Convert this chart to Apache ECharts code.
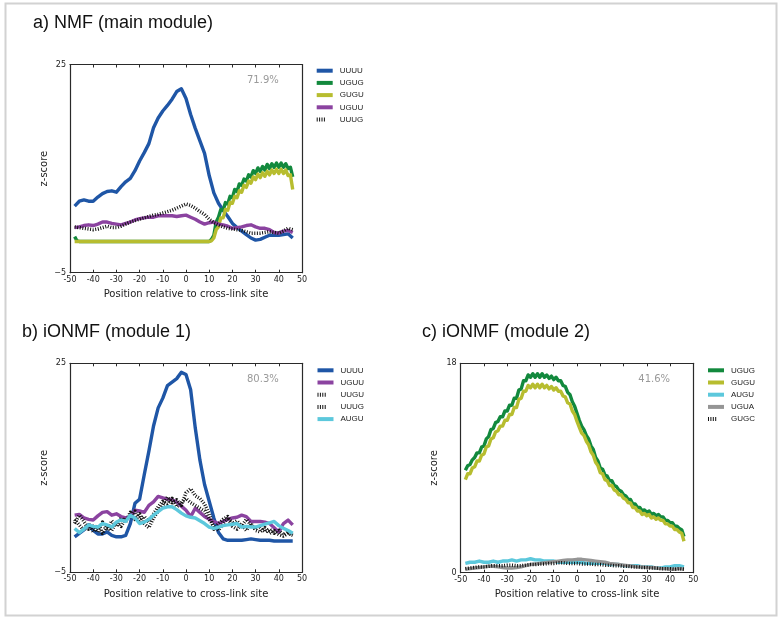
<!DOCTYPE html>
<html>
<head>
<meta charset="utf-8">
<script src="https://cdn.jsdelivr.net/npm/echarts@6/dist/echarts.min.js"></script>
<style>
html, body { margin: 0; padding: 0; background: #fff; }
#chart { width: 780px; height: 617px; }
</style>
</head>
<body>
<div id="chart"></div>
<script>
// Positions relative to the cross-link site (nucleotides)
const POS_FINE = [-48,-47,-46,-45,-44,-43,-42,-41,-40,-39,-38,-37,-36,-35,-34,-33,-32,-31,-30,-29,
  -28,-27,-26,-25,-24,-23,-22,-21,-20,-19,-18,-17,-16,-15,-14,-13,-12,-11,-10,-9,
  -8,-7,-6,-5,-4,-3,-2,-1,0,1,2,3,4,5,6,7,8,9,10,11,
  12,13,14,15,16,17,18,19,20,21,22,23,24,25,26,27,28,29,30,31,
  32,33,34,35,36,37,38,39,40,41,42,43,44,45,46];
const POS_COARSE = [-48,-46,-44,-42,-40,-38,-36,-34,-32,-30,-28,-26,
  -24,-22,-20,-18,-16,-14,-12,-10,-8,-6,-4,-2,
  0,2,4,6,8,10,12,14,16,18,20,22,
  24,26,28,30,32,34,36,38,40,42,44,46];

const X_TICKS = [-50, 50, 10];   // min, max, step of the position axis

// ---- a) NMF (main module) ----
const A_UUUU = [4.6,5.3,5.5,5.3,5.3,5.9,6.4,6.7,6.8,6.6,7.4,8.1,
  8.6,9.7,11.1,12.3,13.6,15.9,17.3,18.3,19.1,20.0,21.1,21.5,
  20.1,17.8,15.8,14.0,12.2,9.0,6.5,5.0,4.0,3.1,2.1,1.5,
  1.0,0.5,0.0,-0.3,-0.2,0.1,0.4,0.4,0.4,0.5,0.6,0.0];
const A_UGUG = [0.2,-0.4,-0.5,-0.5,-0.5,-0.5,-0.5,-0.5,-0.5,-0.5,
  -0.5,-0.5,-0.5,-0.5,-0.5,-0.5,-0.5,-0.5,-0.5,-0.5,
  -0.5,-0.5,-0.5,-0.5,-0.5,-0.5,-0.5,-0.5,-0.5,-0.5,
  -0.5,-0.5,-0.5,-0.5,-0.5,-0.5,-0.5,-0.5,-0.5,-0.5,
  -0.5,-0.5,-0.5,-0.5,-0.5,-0.5,-0.5,-0.5,-0.5,-0.5,
  -0.5,-0.5,-0.5,-0.5,-0.5,-0.5,-0.5,-0.5,-0.5,-0.2,
  0.4,2.3,3.0,4.1,4.0,5.1,4.9,6.0,5.8,7.0,
  6.7,7.8,7.6,8.5,8.2,9.1,8.8,9.7,9.3,10.1,
  9.6,10.3,9.8,10.6,10.0,10.7,10.2,10.8,10.2,10.8,
  10.2,10.7,10.0,10.2,8.8];
const A_GUGU = [-0.5,-0.5,-0.5,-0.5,-0.5,-0.5,-0.5,-0.5,-0.5,-0.5,
  -0.5,-0.5,-0.5,-0.5,-0.5,-0.5,-0.5,-0.5,-0.5,-0.5,
  -0.5,-0.5,-0.5,-0.5,-0.5,-0.5,-0.5,-0.5,-0.5,-0.5,
  -0.5,-0.5,-0.5,-0.5,-0.5,-0.5,-0.5,-0.5,-0.5,-0.5,
  -0.5,-0.5,-0.5,-0.5,-0.5,-0.5,-0.5,-0.5,-0.5,-0.5,
  -0.5,-0.5,-0.5,-0.5,-0.5,-0.5,-0.5,-0.5,-0.5,-0.4,
  0.0,1.2,1.6,2.9,2.9,4.1,4.0,5.1,5.0,6.0,
  5.8,6.8,6.6,7.6,7.3,8.2,7.9,8.8,8.4,9.2,
  8.7,9.4,8.9,9.6,9.1,9.8,9.3,9.9,9.3,9.9,
  9.3,9.8,9.0,9.1,7.0];
const A_UGUU = [1.5,1.6,1.8,1.9,1.8,2.0,2.3,2.3,2.1,2.0,1.9,2.1,
  2.3,2.6,2.8,2.9,3.0,3.0,3.2,3.2,3.2,3.2,3.1,3.2,
  3.3,3.0,2.7,2.3,2.0,2.2,2.3,2.0,1.9,1.7,1.4,1.5,
  1.6,1.8,1.9,1.6,1.4,1.4,1.2,0.8,0.7,1.0,1.1,0.8];
const A_UUUG = [1.6,1.5,1.4,1.3,1.2,1.3,1.5,1.7,1.5,1.5,1.7,2.0,
  2.3,2.5,2.7,2.9,3.1,3.3,3.4,3.6,3.8,4.0,4.3,4.6,
  4.9,4.7,4.3,3.8,3.4,2.7,2.2,1.9,1.6,1.4,1.3,1.2,
  1.1,0.9,0.7,0.7,0.7,0.8,0.9,0.8,0.7,1.0,1.4,1.2];

// ---- b) iONMF (module 1) ----
const B_UUUU = [0.1,0.6,1.1,1.8,1.0,0.5,0.5,0.8,0.3,0.1,0.1,0.3,
  2.0,4.9,5.5,9.0,12.4,16.0,18.6,20.0,21.8,22.3,22.8,23.7,
  23.4,21.2,15.7,11.1,7.6,5.2,2.8,0.7,-0.2,-0.4,-0.4,-0.4,
  -0.4,-0.3,-0.2,-0.3,-0.4,-0.4,-0.4,-0.5,-0.5,-0.5,-0.5,-0.5];
const B_UGUU = [3.2,3.3,2.8,2.6,2.5,3.1,3.6,3.7,3.2,3.4,3.0,2.8,
  3.0,3.9,3.8,3.6,4.6,5.1,5.9,5.7,5.5,5.4,5.1,4.5,
  3.9,3.0,4.2,3.6,3.0,2.6,2.3,2.0,2.3,2.6,2.8,2.9,
  3.2,3.0,2.3,2.3,2.3,2.2,2.0,1.4,0.8,2.0,2.5,1.8];
const B_UUGU = [2.0,3.2,2.3,1.2,1.6,0.8,2.2,1.0,2.4,1.6,2.8,2.2,
  3.6,2.6,3.4,2.0,1.4,2.8,3.8,4.6,5.8,5.0,5.4,4.6,
  6.4,7.0,6.0,5.6,4.8,3.4,1.2,2.0,2.6,3.0,2.0,2.4,
  1.6,2.6,1.8,1.2,1.6,0.8,1.2,0.6,1.0,0.4,0.8,0.4];
const B_UUUG = [2.6,1.8,1.0,2.0,0.8,1.8,0.6,1.6,1.0,2.2,1.6,2.6,
  3.0,3.8,2.4,3.0,2.2,3.4,4.4,5.2,4.8,5.6,4.4,5.0,
  5.6,5.0,4.6,4.2,3.8,2.6,1.6,1.0,2.0,2.8,1.6,1.2,
  1.8,1.0,2.0,1.0,0.8,1.4,0.6,1.0,0.4,0.2,0.6,0.3];
const B_AUGU = [1.3,0.7,1.2,1.8,1.6,1.5,2.0,1.8,1.5,2.2,2.5,2.3,
  3.2,2.8,2.0,2.2,2.6,3.2,3.7,4.2,4.4,4.4,4.0,3.5,
  3.1,2.9,2.8,2.4,2.0,1.5,1.3,1.5,1.7,1.8,1.9,2.0,
  1.5,1.6,1.5,1.5,1.7,1.9,2.1,2.3,1.7,1.3,1.0,0.6];

// ---- c) iONMF (module 2) ----
const C_UGUG = [8.8,9.2,9.3,9.7,9.9,10.3,10.3,10.8,10.9,11.5,
  11.7,12.3,12.4,12.9,13.0,13.4,13.4,13.9,13.9,14.4,
  14.4,15.0,15.0,15.7,15.8,16.5,16.5,17.0,16.8,17.1,
  16.8,17.1,16.8,17.1,16.8,17.0,16.7,16.9,16.6,16.8,
  16.5,16.5,16.1,16.0,15.5,15.3,14.7,14.3,13.7,13.1,
  12.6,12.3,11.8,11.5,10.9,10.6,9.9,9.6,9.0,8.9,
  8.4,8.3,7.9,7.9,7.5,7.4,7.1,7.0,6.7,6.6,
  6.3,6.3,5.9,5.9,5.6,5.6,5.3,5.4,5.2,5.3,
  5.0,5.1,4.9,5.0,4.8,4.8,4.5,4.5,4.3,4.3,
  4.0,4.0,3.8,3.7,3.1];
const C_GUGU = [8.0,8.5,8.5,9.0,9.1,9.6,9.6,10.1,10.2,10.8,
  10.9,11.5,11.6,12.1,12.2,12.6,12.6,13.1,13.1,13.6,
  13.6,14.2,14.2,14.9,15.0,15.6,15.6,16.1,15.9,16.2,
  15.9,16.2,15.9,16.2,15.9,16.1,15.8,16.0,15.7,15.9,
  15.6,15.6,15.2,15.1,14.6,14.5,13.9,13.6,13.0,12.5,
  12.0,11.8,11.3,11.0,10.4,10.1,9.5,9.2,8.6,8.5,
  8.0,7.9,7.5,7.5,7.1,7.0,6.7,6.7,6.4,6.3,
  6.0,6.0,5.6,5.6,5.3,5.3,5.0,5.1,4.9,5.0,
  4.7,4.8,4.6,4.7,4.5,4.5,4.2,4.2,4.0,4.0,
  3.7,3.7,3.5,3.4,2.7];
const C_AUGU = [0.8,0.9,0.9,1.0,0.9,0.9,1.0,0.9,1.0,1.0,1.1,1.0,
  1.1,1.1,1.2,1.1,1.1,1.0,1.0,1.0,0.9,0.9,0.9,0.9,
  0.9,0.9,0.8,0.8,0.8,0.8,0.8,0.7,0.7,0.7,0.6,0.6,
  0.6,0.6,0.5,0.5,0.5,0.4,0.4,0.5,0.5,0.6,0.6,0.5];
const C_UGUA = [0.3,0.35,0.4,0.45,0.5,0.55,0.55,0.5,0.45,0.4,0.4,0.45,
  0.5,0.6,0.7,0.75,0.8,0.85,0.9,0.95,1.0,1.05,1.1,1.1,
  1.15,1.15,1.1,1.05,1.0,0.95,0.9,0.8,0.75,0.7,0.65,0.6,
  0.55,0.5,0.5,0.45,0.45,0.4,0.35,0.35,0.3,0.3,0.35,0.3];
const C_GUGC = [0.35,0.4,0.45,0.5,0.5,0.55,0.6,0.6,0.6,0.65,0.65,0.6,
  0.6,0.65,0.7,0.7,0.75,0.75,0.8,0.8,0.85,0.85,0.8,0.8,
  0.8,0.75,0.75,0.75,0.7,0.7,0.65,0.65,0.6,0.6,0.55,0.55,
  0.5,0.5,0.45,0.45,0.4,0.4,0.35,0.35,0.35,0.3,0.35,0.3];

const Y_RANGE_AB = [-5, 25];
const Y_RANGE_C = [0, 18];
const PERCENTS = ['71.9%', '80.3%', '41.6%'];
const TITLES = ['a) NMF (main module)', 'b) iONMF (module 1)', 'c) iONMF (module 2)'];

const COLORS = {
  UUUU: '#1f56a6', UGUG: '#12893d', GUGU: '#b7bd2f', UGUU: '#8b43a0',
  UUUG: '#111111', UUGU: '#111111', GUGC: '#111111',
  AUGU: '#5cc8dc', UGUA: '#959595'
};
const DOTTED = { UUUG: true, UUGU: true, GUGC: true };

const PANELS = [
  { grid: { left: 70, top: 64.5, width: 232, height: 208.2 }, y: Y_RANGE_AB,
    series: [['UUUU', POS_COARSE, A_UUUU], ['UGUG', POS_FINE, A_UGUG], ['GUGU', POS_FINE, A_GUGU],
             ['UGUU', POS_COARSE, A_UGUU], ['UUUG', POS_COARSE, A_UUUG]],
    legend: { left: 316.7, top: 64.6 } },
  { grid: { left: 70, top: 363.3, width: 232, height: 209 }, y: Y_RANGE_AB,
    series: [['UUUU', POS_COARSE, B_UUUU], ['UGUU', POS_COARSE, B_UGUU], ['UUGU', POS_COARSE, B_UUGU],
             ['UUUG', POS_COARSE, B_UUUG], ['AUGU', POS_COARSE, B_AUGU]],
    legend: { left: 317.5, top: 364.2 } },
  { grid: { left: 460.7, top: 363.3, width: 232.6, height: 209.4 }, y: Y_RANGE_C,
    series: [['UGUG', POS_FINE, C_UGUG], ['GUGU', POS_FINE, C_GUGU], ['AUGU', POS_COARSE, C_AUGU],
             ['UGUA', POS_COARSE, C_UGUA], ['GUGC', POS_COARSE, C_GUGC]],
    legend: { left: 708, top: 364.2 } }
];

const AXIS_COLOR = '#2a2a2a';
const TICK_FONT = { fontFamily: 'DejaVu Sans', fontSize: 8, color: '#222' };
const DOT_ICON = 'path://M0,0h1v4h-1z M2.4,0h1v4h-1z M4.8,0h1v4h-1z M7.2,0h1v4h-1z M16,0';

const grids = [], xAxes = [], yAxes = [], series = [], legends = [], graphics = [];

PANELS.forEach((p, g) => {
  grids.push(p.grid);
  // bottom axis with labels, top axis carrying only inward ticks
  xAxes.push({
    type: 'value', gridIndex: g, position: 'bottom', min: X_TICKS[0], max: X_TICKS[1], interval: X_TICKS[2],
    name: 'Position relative to cross-link site', nameLocation: 'middle', nameGap: 17,
    nameTextStyle: { fontFamily: 'DejaVu Sans', fontSize: 10, color: '#222' },
    axisLine: { show: true, onZero: false, lineStyle: { color: AXIS_COLOR, width: 1.2 } },
    axisTick: { show: true, inside: true, length: 3, lineStyle: { color: AXIS_COLOR, width: 1 } },
    axisLabel: Object.assign({ margin: 3 }, TICK_FONT),
    splitLine: { show: false }
  });
  xAxes.push({
    type: 'value', gridIndex: g, position: 'top', min: X_TICKS[0], max: X_TICKS[1], interval: X_TICKS[2],
    axisLine: { show: true, onZero: false, lineStyle: { color: AXIS_COLOR, width: 1.2 } },
    axisTick: { show: true, inside: true, length: 3, lineStyle: { color: AXIS_COLOR, width: 1 } },
    axisLabel: { show: false }, splitLine: { show: false }
  });
  yAxes.push({
    type: 'value', gridIndex: g, position: 'left', min: p.y[0], max: p.y[1],
    name: 'z-score', nameLocation: 'middle', nameGap: 21,
    nameTextStyle: { fontFamily: 'DejaVu Sans', fontSize: 10, color: '#222' },
    axisLine: { show: true, onZero: false, lineStyle: { color: AXIS_COLOR, width: 1.2 } },
    axisTick: { show: false },
    axisLabel: Object.assign({ margin: 4, customValues: p.y.slice(),
      formatter: v => String(v).replace('-', '\u2212') }, TICK_FONT),
    splitLine: { show: false }
  });
  yAxes.push({
    type: 'value', gridIndex: g, position: 'right', min: p.y[0], max: p.y[1],
    axisLine: { show: true, onZero: false, lineStyle: { color: AXIS_COLOR, width: 1.2 } },
    axisTick: { show: false }, axisLabel: { show: false }, splitLine: { show: false }
  });

  p.series.forEach(([name, xs, ys]) => {
    const dotted = !!DOTTED[name];
    series.push({
      type: 'line', name, xAxisIndex: 2 * g, yAxisIndex: 2 * g,
      data: xs.map((x, i) => [x, ys[i]]),
      showSymbol: false, symbol: 'none', silent: true, animation: false,
      lineStyle: { color: COLORS[name], width: dotted ? 3.5 : 3.4, type: dotted ? [1, 1.6] : 'solid', cap: 'butt', join: 'round' },
      itemStyle: { color: COLORS[name] }
    });
  });

  legends.push({
    orient: 'vertical', left: p.legend.left, top: p.legend.top, padding: 0,
    itemWidth: 16, itemHeight: 4, itemGap: 0, selectedMode: false,
    textStyle: { fontFamily: 'Liberation Sans', fontSize: 8, color: '#222', lineHeight: 12.2, padding: [0, 0, 0, 2] },
    data: p.series.map(([name]) => ({ name, icon: DOTTED[name] ? DOT_ICON : 'rect' }))
  });

  const gr = p.grid;
  graphics.push({
    type: 'text', left: gr.left + gr.width - 55, top: gr.top + 11,
    style: { text: PERCENTS[g], font: '10px "DejaVu Sans"', fill: '#9a9a9a' }
  });
});

// panel titles
graphics.push({ type: 'text', left: 33, top: 14, style: { text: TITLES[0], font: '18px "Liberation Sans"', fill: '#111' } });
graphics.push({ type: 'text', left: 22, top: 323, style: { text: TITLES[1], font: '18px "Liberation Sans"', fill: '#111' } });
graphics.push({ type: 'text', left: 422, top: 323, style: { text: TITLES[2], font: '18px "Liberation Sans"', fill: '#111' } });
// outer frame
graphics.push({ type: 'rect', left: 3, top: 1, shape: { x: 0, y: 0, width: 771, height: 612 },
  style: { fill: 'none', stroke: '#d2d2d2', lineWidth: 2 }, silent: true, z: -10 });

const chart = echarts.init(document.getElementById('chart'), null, { renderer: 'canvas' });
chart.setOption({
  backgroundColor: '#ffffff',
  animation: false,
  grid: grids, xAxis: xAxes, yAxis: yAxes,
  legend: legends, series: series, graphic: graphics
});
</script>
</body>
</html>
